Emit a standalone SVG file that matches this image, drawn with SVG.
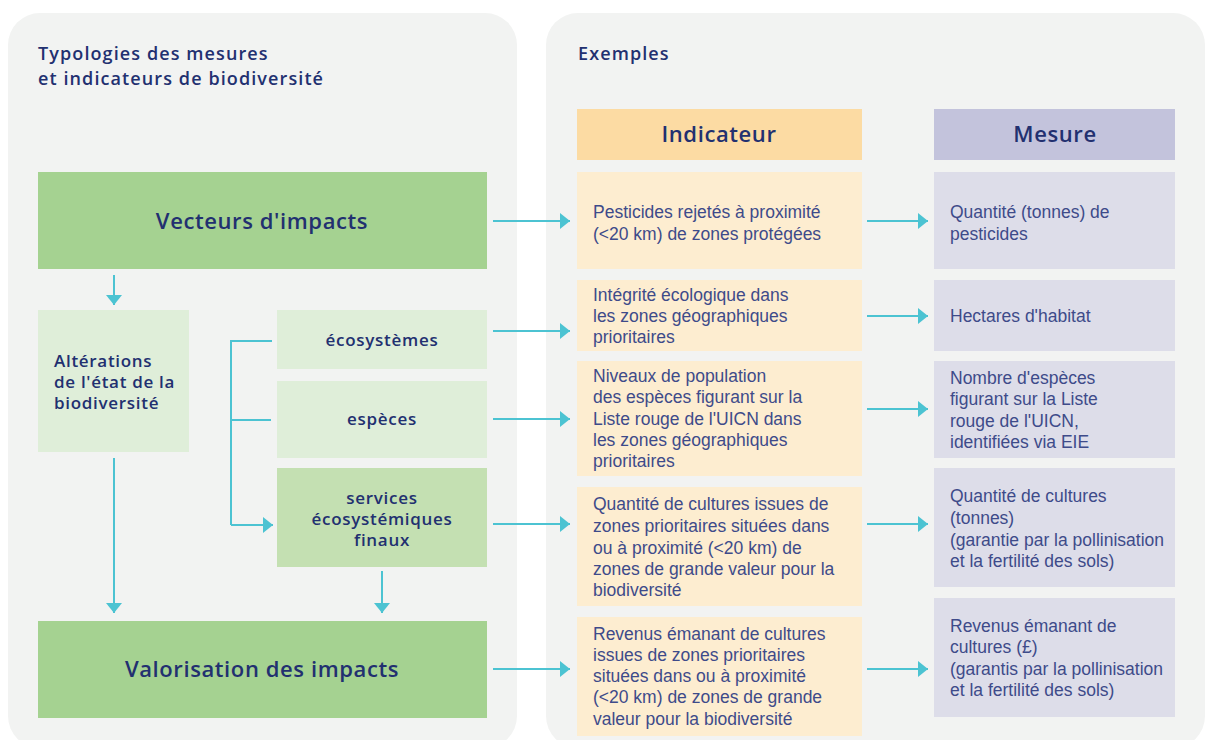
<svg xmlns="http://www.w3.org/2000/svg" width="1213" height="740" viewBox="0 0 1213 740">
<style>
.panel{fill:#f2f3f2}
.dg{fill:#a5d291}
.lg{fill:#dfeed9}
.mg{fill:#c4e0b2}
.ih{fill:#fcdba3}
.ib{fill:#fdedd0}
.mh{fill:#c3c3dc}
.mb{fill:#dddde9}
.t{font-family:"Open Sans","Liberation Sans",sans-serif;font-weight:600;fill:#223070}
.h1{font-size:18px;letter-spacing:1.1px}
.h2{font-size:22px;letter-spacing:0.6px}
.h3{font-size:17px;letter-spacing:0.7px}
.b{font-family:"Liberation Sans",Arial,sans-serif;font-size:17.5px;fill:#3e4b8a}
.c{text-anchor:middle}
.ln{stroke:#4cc3d2;stroke-width:2;fill:none}
</style>
<defs>
<marker id="ah" viewBox="0 0 10 16" refX="10" refY="8" markerWidth="10" markerHeight="16" markerUnits="userSpaceOnUse" orient="auto">
<path d="M0,0 L10,8 L0,16 Z" fill="#4cc3d2"/>
</marker>
</defs>
<rect class="panel" x="8" y="13" width="509" height="735" rx="32"/>
<rect class="panel" x="546" y="13" width="659" height="735" rx="32"/>
<g id="title-left">
<text class="t h1" x="38" y="60">Typologies des mesures</text>
<text class="t h1" x="38" y="85">et indicateurs de biodiversité</text>
</g>
<text id="title-right" class="t h1" x="578" y="60">Exemples</text>

<g id="vecteurs"><rect class="dg" x="38" y="172" width="449" height="97"/><text class="t h2 c" x="262" y="229">Vecteurs d'impacts</text></g>
<g id="alterations"><rect class="lg" x="38" y="310" width="151" height="142"/>
<text class="t h3" x="54" y="367">Altérations</text>
<text class="t h3" x="54" y="388">de l'état de la</text>
<text class="t h3" x="54" y="409">biodiversité</text></g>
<g id="ecosystemes"><rect class="lg" x="277" y="310" width="210" height="59"/><text class="t h3 c" x="382" y="346">écosystèmes</text></g>
<g id="especes"><rect class="lg" x="277" y="381" width="210" height="77"/><text class="t h3 c" x="382" y="425">espèces</text></g>
<g id="services"><rect class="mg" x="277" y="468" width="210" height="99"/>
<text class="t h3 c" x="382" y="504">services</text>
<text class="t h3 c" x="382" y="525">écosystémiques</text>
<text class="t h3 c" x="382" y="546">finaux</text></g>
<g id="valorisation"><rect class="dg" x="38" y="621" width="449" height="97"/><text class="t h2 c" x="262" y="677">Valorisation des impacts</text></g>

<g id="indicateur-header"><rect class="ih" x="577" y="109" width="285" height="51"/><text class="t h2 c" x="719" y="142">Indicateur</text></g>
<g id="mesure-header"><rect class="mh" x="934" y="109" width="241" height="51"/><text class="t h2 c" x="1055" y="142">Mesure</text></g>

<g id="ind1"><rect class="ib" x="577" y="172" width="285" height="97"/>
<text class="b" x="593" y="218">Pesticides rejetés à proximité</text>
<text class="b" x="593" y="240">(&lt;20 km) de zones protégées</text></g>
<g id="mes1"><rect class="mb" x="934" y="172" width="241" height="97"/>
<text class="b" x="950" y="218">Quantité (tonnes) de</text>
<text class="b" x="950" y="240">pesticides</text></g>

<g id="ind2"><rect class="ib" x="577" y="280" width="285" height="71"/>
<text class="b" x="593" y="301">Intégrité écologique dans</text>
<text class="b" x="593" y="322">les zones géographiques</text>
<text class="b" x="593" y="343">prioritaires</text></g>
<g id="mes2"><rect class="mb" x="934" y="280" width="241" height="71"/>
<text class="b" x="950" y="322">Hectares d'habitat</text></g>

<g id="ind3"><rect class="ib" x="577" y="361" width="285" height="115"/>
<text class="b" x="593" y="382">Niveaux de population</text>
<text class="b" x="593" y="403">des espèces figurant sur la</text>
<text class="b" x="593" y="425">Liste rouge de l'UICN dans</text>
<text class="b" x="593" y="446">les zones géographiques</text>
<text class="b" x="593" y="467">prioritaires</text></g>
<g id="mes3"><rect class="mb" x="934" y="361" width="241" height="97"/>
<text class="b" x="950" y="384">Nombre d'espèces</text>
<text class="b" x="950" y="405">figurant sur la Liste</text>
<text class="b" x="950" y="427">rouge de l'UICN,</text>
<text class="b" x="950" y="448">identifiées via EIE</text></g>

<g id="ind4"><rect class="ib" x="577" y="487" width="285" height="119"/>
<text class="b" x="593" y="510">Quantité de cultures issues de</text>
<text class="b" x="593" y="532">zones prioritaires situées dans</text>
<text class="b" x="593" y="554">ou à proximité (&lt;20 km) de</text>
<text class="b" x="593" y="575">zones de grande valeur pour la</text>
<text class="b" x="593" y="596">biodiversité</text></g>
<g id="mes4"><rect class="mb" x="934" y="468" width="241" height="119"/>
<text class="b" x="950" y="502">Quantité de cultures</text>
<text class="b" x="950" y="524">(tonnes)</text>
<text class="b" x="950" y="546">(garantie par la pollinisation</text>
<text class="b" x="950" y="567">et la fertilité des sols)</text></g>

<g id="ind5"><rect class="ib" x="577" y="617" width="285" height="119"/>
<text class="b" x="593" y="640">Revenus émanant de cultures</text>
<text class="b" x="593" y="661">issues de zones prioritaires</text>
<text class="b" x="593" y="682">situées dans ou à proximité</text>
<text class="b" x="593" y="703">(&lt;20 km) de zones de grande</text>
<text class="b" x="593" y="725">valeur pour la biodiversité</text></g>
<g id="mes5"><rect class="mb" x="934" y="598" width="241" height="119"/>
<text class="b" x="950" y="632">Revenus émanant de</text>
<text class="b" x="950" y="653">cultures (£)</text>
<text class="b" x="950" y="675">(garantis par la pollinisation</text>
<text class="b" x="950" y="696">et la fertilité des sols)</text></g>

<g id="connectors">
<line class="ln" x1="114" y1="275" x2="114" y2="305" marker-end="url(#ah)"/>
<line class="ln" x1="114" y1="458" x2="114" y2="613" marker-end="url(#ah)"/>
<line class="ln" x1="382" y1="571" x2="382" y2="613" marker-end="url(#ah)"/>
<path class="ln" d="M272,341 H231 V525"/>
<line class="ln" x1="231" y1="420" x2="271" y2="420"/>
<line class="ln" x1="231" y1="525" x2="273" y2="525" marker-end="url(#ah)"/>
<line class="ln" x1="493" y1="221" x2="570" y2="221" marker-end="url(#ah)"/>
<line class="ln" x1="493" y1="331" x2="570" y2="331" marker-end="url(#ah)"/>
<line class="ln" x1="493" y1="419" x2="570" y2="419" marker-end="url(#ah)"/>
<line class="ln" x1="493" y1="524" x2="570" y2="524" marker-end="url(#ah)"/>
<line class="ln" x1="493" y1="669" x2="570" y2="669" marker-end="url(#ah)"/>
<line class="ln" x1="867" y1="221" x2="928" y2="221" marker-end="url(#ah)"/>
<line class="ln" x1="867" y1="316" x2="928" y2="316" marker-end="url(#ah)"/>
<line class="ln" x1="867" y1="409" x2="928" y2="409" marker-end="url(#ah)"/>
<line class="ln" x1="867" y1="524" x2="928" y2="524" marker-end="url(#ah)"/>
<line class="ln" x1="867" y1="669" x2="928" y2="669" marker-end="url(#ah)"/>
</g>
</svg>
